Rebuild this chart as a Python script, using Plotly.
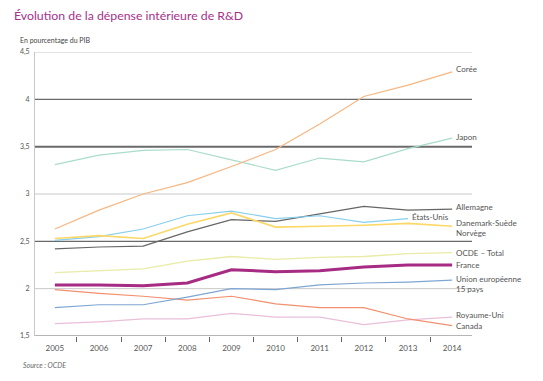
import plotly.graph_objects as go

years = [2005, 2006, 2007, 2008, 2009, 2010, 2011, 2012, 2013, 2014]

coree = [2.63, 2.83, 3.00, 3.12, 3.29, 3.47, 3.74, 4.03, 4.15, 4.29]
japon = [3.31, 3.41, 3.46, 3.47, 3.36, 3.25, 3.38, 3.34, 3.48, 3.59]
allemagne = [2.42, 2.44, 2.45, 2.60, 2.73, 2.71, 2.79, 2.87, 2.83, 2.84]
etats_unis = [2.51, 2.55, 2.63, 2.77, 2.82, 2.74, 2.77, 2.70, 2.74]
dsn = [2.53, 2.56, 2.53, 2.68, 2.80, 2.65, 2.66, 2.67, 2.69, 2.66]
ocde = [2.17, 2.19, 2.21, 2.29, 2.34, 2.31, 2.33, 2.34, 2.37, 2.38]
france = [2.04, 2.04, 2.03, 2.06, 2.20, 2.18, 2.19, 2.23, 2.25, 2.25]
ue15 = [1.80, 1.83, 1.83, 1.91, 2.00, 1.99, 2.04, 2.06, 2.07, 2.09]
royaume_uni = [1.63, 1.65, 1.68, 1.68, 1.74, 1.70, 1.70, 1.62, 1.67, 1.70]
canada = [1.99, 1.95, 1.92, 1.88, 1.92, 1.84, 1.80, 1.80, 1.68, 1.61]

ytick_vals = [1.5, 2, 2.5, 3, 3.5, 4, 4.5]
ytick_text = ["1,5", "2", "2,5", "3", "3,5", "4", "4,5"]

series = [
    # name, values, color, width, label, label yshift
    ("Royaume-Uni", royaume_uni, "#e9bfd9", 1.2, "Royaume-Uni", 2),
    ("Canada", canada, "#f2906f", 1.2, "Canada", 0),
    ("Union européenne 15 pays", ue15, "#7ea6d3", 1.2, "Union européenne<br>15 pays", -4),
    ("OCDE – Total", ocde, "#e9eba6", 1.3, "OCDE – Total", 0),
    ("Japon", japon, "#a9dccb", 1.2, "Japon", 1),
    ("Corée", coree, "#f7b681", 1.2, "Corée", 3),
    ("Allemagne", allemagne, "#666666", 1.2, "Allemagne", 2),
    ("États-Unis", etats_unis, "#86cfee", 1.2, "États-Unis", 2),
    ("Danemark-Suède Norvège", dsn, "#fcd868", 1.6, "Danemark-Suède<br>Norvège", -2),
    ("France", france, "#a62b82", 3.0, "France", 0),
]

fig = go.Figure()
annotations = []
for name, vals, color, width, label, ys in series:
    xs = years[:len(vals)]
    fig.add_trace(go.Scatter(x=xs, y=vals, mode="lines", name=name,
                             line=dict(color=color, width=width),
                             hoverinfo="x+y+name"))
    annotations.append(dict(x=xs[-1], y=vals[-1], xref="x", yref="y",
                            text=label, showarrow=False, xanchor="left",
                            yanchor="middle", xshift=2, yshift=ys, align="left",
                            font=dict(family="Lato", size=8, color="#555555")))

# horizontal reference lines (light and dark)
shapes = []
for yv, col, w in [(4.5, "#c8c8c8", 1), (3, "#c8c8c8", 1), (2, "#c8c8c8", 1),
                   (4, "#6a6a6a", 1.2), (3.5, "#6a6a6a", 2), (2.5, "#6a6a6a", 1.2)]:
    shapes.append(dict(type="line", xref="paper", yref="y", x0=0, x1=1, y0=yv, y1=yv,
                       line=dict(color=col, width=w), layer="below"))

annotations += [
    dict(text="Évolution de la dépense intérieure de R&D", xref="paper", yref="paper",
         x=-23/439, y=1 + (52 - 16) / 284, xanchor="left", yanchor="middle",
         showarrow=False, font=dict(family="Lato", size=12.3, color="#a8308a")),
    dict(text="En pourcentage du PIB", xref="paper", yref="paper",
         x=-17/439, y=1 + (52 - 40) / 284, xanchor="left", yanchor="middle",
         showarrow=False, font=dict(family="Lato", size=7, color="#444444")),
    dict(text="<i>Source : OCDE</i>", xref="paper", yref="paper",
         x=-14/439, y=-(365 - 336) / 284, xanchor="left", yanchor="middle",
         showarrow=False, font=dict(family="Lato", size=7, color="#666666")),
]

fig.update_layout(
    width=535, height=373,
    margin=dict(l=25, r=71, t=44, b=45),
    paper_bgcolor="white", plot_bgcolor="white",
    showlegend=False,
    shapes=shapes,
    annotations=annotations,
    xaxis=dict(range=[2004.55, 2014.45], tickmode="array", tickvals=years,
               ticktext=[str(y) for y in years], ticks="", showgrid=False,
               zeroline=False, showline=False, ticklabelstandoff=6,
               tickfont=dict(family="Lato", size=8, color="#555555"),
               minor=dict(tick0=2004.5, dtick=1, ticks="outside", ticklen=5,
                          tickcolor="#666666", tickwidth=1, showgrid=False)),
    yaxis=dict(range=[1.5, 4.5], tickmode="array", tickvals=ytick_vals,
               ticktext=ytick_text, showgrid=False,
               zeroline=False, showline=True, linecolor="#c8c8c8",
               linewidth=1, ticks="", ticklabelstandoff=3,
               tickfont=dict(family="Lato", size=7, color="#555555")),
)
# bottom axis line
fig.add_shape(type="line", xref="paper", yref="y", x0=0, x1=1, y0=1.5, y1=1.5,
              line=dict(color="#b5b5b5", width=2), layer="above")

fig.write_html("out.html")
